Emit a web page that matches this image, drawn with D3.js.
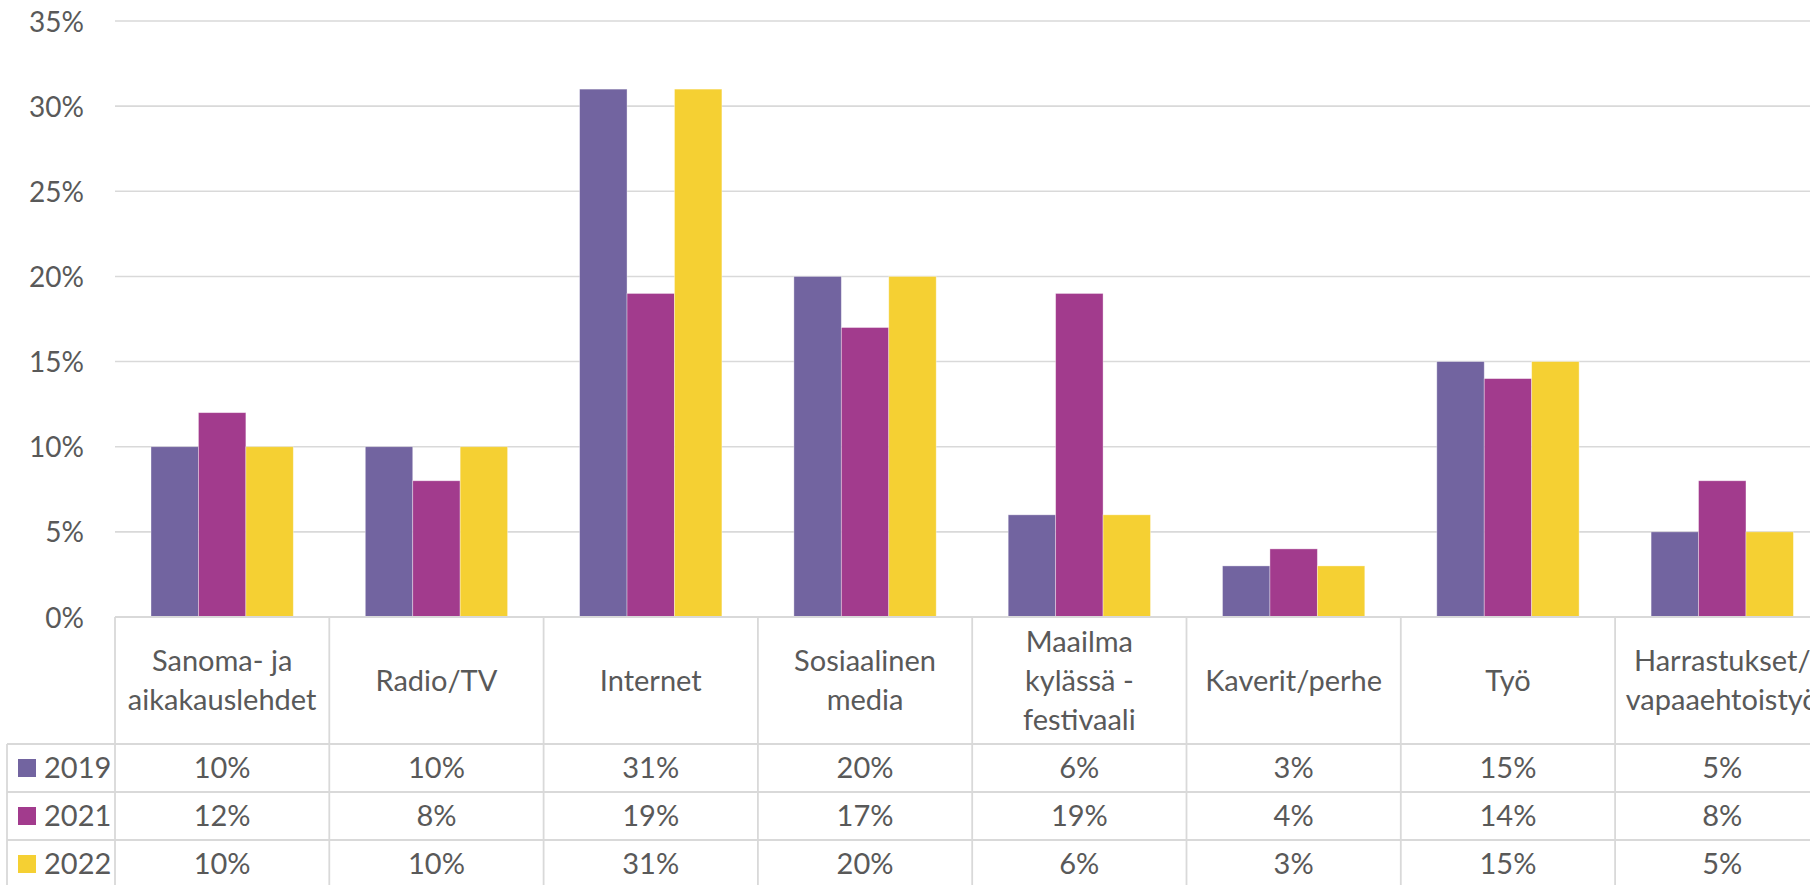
<!DOCTYPE html>
<html>
<head>
<meta charset="utf-8">
<script src="https://cdn.jsdelivr.net/npm/d3@7"></script>
<style>
  html, body { margin: 0; padding: 0; background: #fff; overflow: hidden; }
  svg { display: block; }
  text { font-family: "Lato", "Open Sans", sans-serif; fill: #595959; }
</style>
</head>
<body>
<svg id="chart" width="1810" height="885"></svg>
<script>
// ---- data ----
const categories = [
  "Sanoma- ja\naikakauslehdet",
  "Radio/TV",
  "Internet",
  "Sosiaalinen\nmedia",
  "Maailma\nkylässä -\nfestivaali",
  "Kaverit/perhe",
  "Työ",
  "Harrastukset/\nvapaaehtoistyö"
];
const seriesNames = ["2019", "2021", "2022"];
const values2019 = [0.10, 0.10, 0.31, 0.20, 0.06, 0.03, 0.15, 0.05];
const values2021 = [0.12, 0.08, 0.19, 0.17, 0.19, 0.04, 0.14, 0.08];
const values2022 = [0.10, 0.10, 0.31, 0.20, 0.06, 0.03, 0.15, 0.05];
const yTicks = [0, 0.05, 0.10, 0.15, 0.20, 0.25, 0.30, 0.35];
const colors = ["#7264A0", "#A23B8D", "#F5D033"];

const seriesValues = [values2019, values2021, values2022];

// ---- layout ----
const svg = d3.select("#chart");
const plotLeft = 115, step = 214.3;
const yTop = 21, yZero = 617;
const headerBottom = 744, rowH = 48;
const gridColor = "#D9D9D9";

const x0 = d3.scaleBand().domain(categories).range([plotLeft, plotLeft + step * categories.length]).padding(0);
const x1 = d3.scaleBand().domain(seriesNames).range([36, step - 36]).padding(0);
const y = d3.scaleLinear().domain([0, 0.35]).range([yZero, yTop]);
const fmt = d3.format(".0%");

// gridlines
svg.append("g").selectAll("line").data(yTicks.filter(d => d > 0)).join("line")
  .attr("x1", plotLeft).attr("x2", 1810)
  .attr("y1", d => y(d)).attr("y2", d => y(d))
  .attr("stroke", gridColor).attr("stroke-width", 1.6);

// y axis labels
const yAxis = d3.axisLeft(y).tickValues(yTicks).tickFormat(fmt).tickSize(0).tickPadding(0);
const yg = svg.append("g").attr("transform", "translate(84,0)").call(yAxis);
yg.select(".domain").remove();
yg.selectAll("text").attr("font-size", 28).attr("fill", "#595959")
  .attr("font-family", "Lato, 'Open Sans', sans-serif").attr("dy", "0.36em");

// bars
const groups = svg.append("g").selectAll("g").data(categories).join("g")
  .attr("transform", d => `translate(${x0(d)},0)`);
groups.selectAll("rect").data((c, i) => seriesNames.map((s, j) => ({ s, j, v: seriesValues[j][i] })))
  .join("rect")
  .attr("x", d => x1(d.s)).attr("width", x1.bandwidth())
  .attr("y", d => y(d.v)).attr("height", d => yZero - y(d.v))
  .attr("fill", d => colors[d.j])
  .attr("stroke", "rgba(255,255,255,0.45)").attr("stroke-width", 0.8);

// ---- data table ----
const tbl = svg.append("g");
const tableRight = 1810;
const tableBottom = headerBottom + rowH * seriesNames.length;
// top line (axis)
tbl.append("line").attr("x1", plotLeft).attr("x2", tableRight).attr("y1", yZero).attr("y2", yZero)
  .attr("stroke", gridColor).attr("stroke-width", 1.8);
// horizontal row lines
tbl.selectAll("line.h").data(d3.range(seriesNames.length + 1)).join("line").attr("class", "h")
  .attr("x1", 7).attr("x2", tableRight)
  .attr("y1", i => headerBottom + i * rowH).attr("y2", i => headerBottom + i * rowH)
  .attr("stroke", gridColor).attr("stroke-width", 1.8);
// vertical lines
const vx = categories.map(c => x0(c));
tbl.selectAll("line.v").data(vx).join("line").attr("class", "v")
  .attr("x1", d => d).attr("x2", d => d).attr("y1", yZero).attr("y2", tableBottom)
  .attr("stroke", gridColor).attr("stroke-width", 1.8);
tbl.append("line").attr("x1", 7).attr("x2", 7).attr("y1", headerBottom).attr("y2", tableBottom)
  .attr("stroke", gridColor).attr("stroke-width", 1.8);

// header labels
const lineH = 39;
const hdr = tbl.selectAll("text.hdr").data(categories).join("text").attr("class", "hdr")
  .attr("text-anchor", "middle").attr("font-size", 29);
hdr.each(function(c) {
  const lines = c.split("\n");
  const cx = x0(c) + step / 2;
  const cy = (yZero + headerBottom) / 2;
  const t = d3.select(this);
  lines.forEach((ln, k) => {
    t.append("tspan").attr("x", cx)
      .attr("y", cy + (k - (lines.length - 1) / 2) * lineH)
      .attr("dy", "0.36em").text(ln);
  });
});

// legend keys + values
seriesNames.forEach((s, j) => {
  const cy = headerBottom + j * rowH + rowH / 2;
  tbl.append("rect").attr("x", 18).attr("y", cy - 9).attr("width", 18).attr("height", 18).attr("fill", colors[j]);
  tbl.append("text").attr("x", 44).attr("y", cy).attr("dy", "0.36em").attr("font-size", 29).text(s);
  tbl.selectAll(null).data(categories).join("text")
    .attr("x", c => x0(c) + step / 2).attr("y", cy).attr("dy", "0.36em")
    .attr("text-anchor", "middle").attr("font-size", 29)
    .text((c, i) => fmt(seriesValues[j][i]));
});
</script>
</body>
</html>
